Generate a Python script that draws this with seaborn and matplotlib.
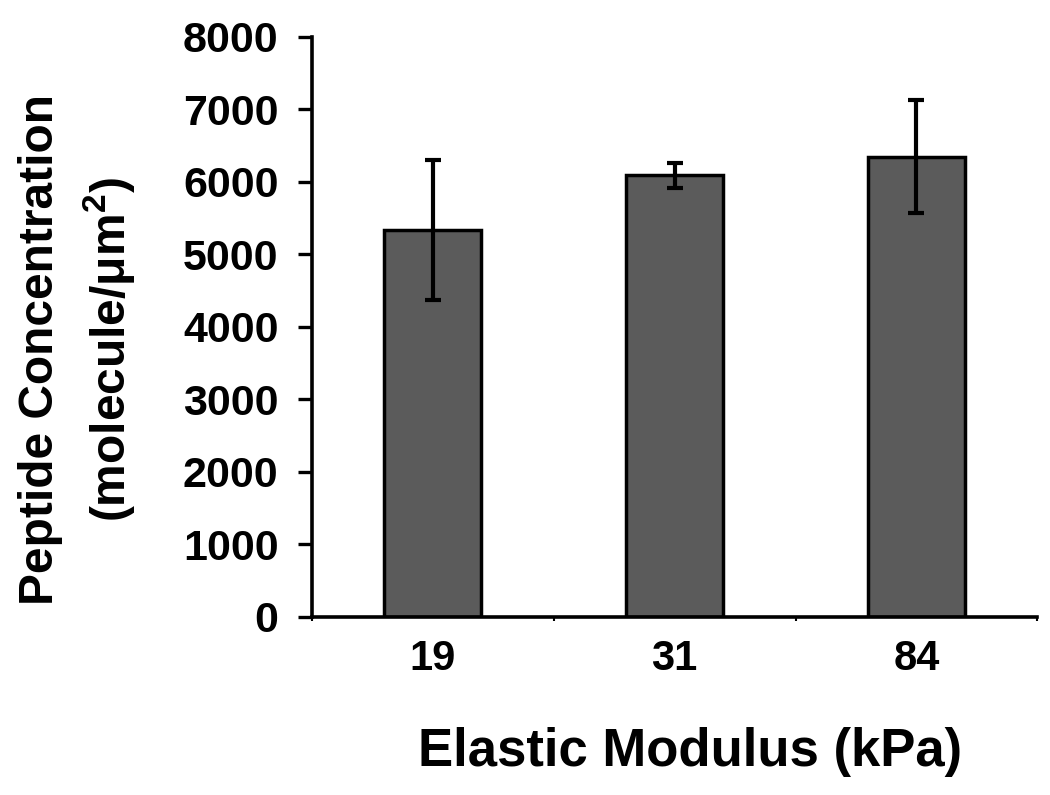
import matplotlib
matplotlib.use('Agg')
import matplotlib.pyplot as plt
import seaborn as sns
import pandas as pd

# values
modulus = ['19', '31', '84']
concentration = [5335, 6085, 6345]
error = [965, 170, 780]
yticks = [0, 1000, 2000, 3000, 4000, 5000, 6000, 7000, 8000]

sns.set_style('white')
plt.rcParams['font.family'] = ['Liberation Sans', 'DejaVu Sans']
plt.rcParams['font.weight'] = 'bold'
plt.rcParams['text.color'] = 'black'
plt.rcParams['xtick.color'] = 'black'
plt.rcParams['ytick.color'] = 'black'
plt.rcParams['axes.labelcolor'] = 'black'
plt.rcParams['mathtext.fontset'] = 'custom'
plt.rcParams['mathtext.rm'] = 'Liberation Sans:bold'
plt.rcParams['mathtext.it'] = 'Liberation Sans:bold'
plt.rcParams['mathtext.bf'] = 'Liberation Sans:bold'

df = pd.DataFrame({'Modulus': modulus, 'Concentration': concentration})

fig = plt.figure(figsize=(10.5, 7.95), dpi=100)
ax = fig.add_axes([0.297, 0.224, 0.691, 0.730])

sns.barplot(data=df, x='Modulus', y='Concentration', order=modulus,
            color='#5b5b5b', saturation=1, edgecolor='black', linewidth=2.5,
            width=0.4, ax=ax)
ax.errorbar(x=range(len(modulus)), y=concentration, yerr=error, fmt='none',
            ecolor='black', elinewidth=3, capsize=6, capthick=3)

ax.set_ylim(0, 8000)
ax.set_xlim(-0.5, len(modulus) - 0.5)
ax.set_yticks(yticks)
ax.set_yticklabels([str(t) for t in yticks], fontsize=31, fontweight='bold')
ax.tick_params(axis='y', left=True, direction='out', length=10, width=2.4, pad=14)
ax.tick_params(axis='x', which='major', bottom=False, length=0, pad=16, labelsize=30)
ax.set_xticks([i - 0.5 for i in range(len(modulus) + 1)], minor=True)
ax.tick_params(axis='x', which='minor', bottom=True, direction='out', length=3, width=1.5)
for lab in ax.get_xticklabels():
    lab.set_fontweight('bold')

sns.despine(ax=ax)
for side in ['left', 'bottom']:
    ax.spines[side].set_linewidth(2.6)
    ax.spines[side].set_color('black')

ax.set_xlabel('')
ax.set_ylabel('')
fig.text(0.657, 0.054, 'Elastic Modulus (kPa)', ha='center', va='center',
         fontsize=38, fontweight='bold')
fig.text(0.074, 0.56, 'Peptide Concentration\n(molecule/μm$^2$)', rotation=90,
         ha='center', va='center', multialignment='center', linespacing=1.4,
         fontsize=34.5, fontweight='bold')

fig.savefig('out.png', dpi=100)
